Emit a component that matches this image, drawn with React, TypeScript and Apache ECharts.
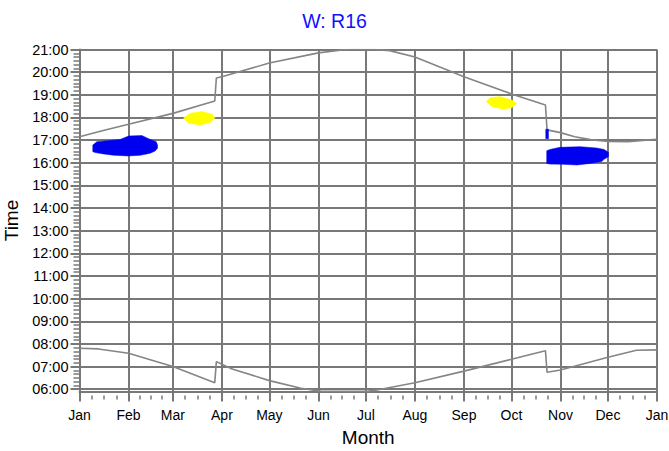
import React, { useEffect, useRef } from "react";
import * as echarts from "echarts";

// Month boundaries (day of year) and their labels
const monthStartDays = [0, 31, 59, 90, 120, 151, 181, 212, 243, 273, 304, 334, 365];
const monthLabels = ["Jan", "Feb", "Mar", "Apr", "May", "Jun", "Jul", "Aug", "Sep", "Oct", "Nov", "Dec", "Jan"];

// Hour ticks on the time axis
const hourTicks = [6, 7, 8, 9, 10, 11, 12, 13, 14, 15, 16, 17, 18, 19, 20, 21];
const hourLabels = [
  "06:00", "07:00", "08:00", "09:00", "10:00", "11:00", "12:00", "13:00",
  "14:00", "15:00", "16:00", "17:00", "18:00", "19:00", "20:00", "21:00",
];

// Sunset time through the year [day, hour]
const sunsetLine: [number, number][] = [
  [0, 17.15], [15, 17.42], [31, 17.7], [59, 18.18], [85.5, 18.73], [86.5, 19.74],
  [90, 19.8], [120, 20.4], [151, 20.85], [166, 20.98], [172, 21.0], [186, 21.0],
  [196, 20.95], [212, 20.67], [243, 19.8], [273, 19.04], [294.5, 18.55], [295.5, 17.45],
  [304, 17.33], [313, 17.15], [323, 17.02], [334, 16.94], [347, 16.93], [358, 17.0], [365, 17.04],
];

// Sunrise time through the year [day, hour]
const sunriseLine: [number, number][] = [
  [0, 7.81], [12, 7.78], [31, 7.59], [59, 7.0], [85.5, 6.29], [86.5, 7.22], [90, 7.1],
  [95.5, 6.92], [120, 6.38], [140, 6.04], [148, 5.96], [153, 5.91], [182, 5.91],
  [188, 5.97], [212, 6.29], [243, 6.8], [273, 7.32], [294.5, 7.7], [295.5, 6.75],
  [304, 6.85], [334, 7.41], [352, 7.72], [365, 7.74],
];

// Glare periods, outlined as [day, hour] polygons
const blueJanFeb: [number, number][] = [
  [8.4, 16.78], [11.0, 16.93], [17.3, 16.97], [25.7, 17.03], [31.0, 17.18], [39.4, 17.2],
  [44.7, 17.03], [48.5, 16.93], [49.3, 16.78], [49.3, 16.64], [47.8, 16.52], [44.7, 16.42],
  [38.4, 16.33], [31.0, 16.3], [21.5, 16.33], [15.2, 16.39], [9.9, 16.45], [8.4, 16.49],
];
const blueLateOct: [number, number][] = [
  [294.7, 17.48], [296.4, 17.48], [296.4, 17.06], [294.7, 17.06],
];
const blueNovDec: [number, number][] = [
  [295.3, 16.53], [297.4, 16.59], [303.7, 16.68], [316.4, 16.71], [326.9, 16.65],
  [331.5, 16.59], [334.3, 16.46], [334.3, 16.27], [331.5, 16.15], [330.1, 16.05],
  [322.7, 15.97], [314.3, 15.9], [305.8, 15.93], [297.4, 15.94], [295.3, 15.97],
];
const yellowMar: [number, number][] = [
  [65.7, 17.96], [70.0, 18.18], [77.3, 18.26], [83.6, 18.15], [85.7, 17.99],
  [82.6, 17.78], [76.3, 17.67], [68.9, 17.74],
];
const yellowSep: [number, number][] = [
  [257.0, 18.7], [259.5, 18.87], [265.8, 18.92], [273.2, 18.77], [276.4, 18.62],
  [273.2, 18.43], [267.9, 18.36], [260.6, 18.48],
];

const blueBlobs = [blueJanFeb, blueLateOct, blueNovDec];
const yellowBlobs = [yellowMar, yellowSep];

const FONT = '"Liberation Sans", Arial, sans-serif';
const GRID_GRAY = "#787878";
const LINE_GRAY = "#858585";

// Minor ticks: quarter-months and ten-minute steps
const quarterMonthTicks: number[] = [];
for (let i = 0; i < monthStartDays.length - 1; i++) {
  const a = monthStartDays[i];
  const len = monthStartDays[i + 1] - a;
  for (let k = 1; k < 4; k++) quarterMonthTicks.push(a + (len * k) / 4);
}
const tenMinuteTicks: number[] = [];
for (let h = 6; h < 21; h++) {
  for (let k = 1; k < 6; k++) tenMinuteTicks.push(h + k / 6);
}

function blobSeries(blobs: [number, number][][], color: string) {
  return {
    type: "custom",
    xAxisIndex: 0,
    yAxisIndex: 0,
    z: 4,
    data: blobs.map((b) => b[0]),
    renderItem: (params: any, api: any) => {
      const pts = blobs[params.dataIndex].map((p) => api.coord(p));
      return {
        type: "polygon",
        shape: { points: pts },
        style: { fill: color, stroke: color, lineWidth: 0.5 },
      };
    },
  };
}

export default function App() {
  const ref = useRef<HTMLDivElement>(null);

  useEffect(() => {
    if (!ref.current) return;
    const chart = echarts.init(ref.current, undefined, { renderer: "svg" });
    const axisText = { color: "#000", fontFamily: FONT };
    chart.setOption({
      animation: false,
      backgroundColor: "#fff",
      title: {
        text: "W: R16",
        left: "center",
        top: 6,
        textStyle: { color: "#1010ff", fontSize: 19.5, fontWeight: "normal", fontFamily: FONT },
      },
      grid: { left: 79.5, right: 12, top: 49.5, bottom: 59.5, containLabel: false, outerBoundsMode: "none" },
      xAxis: [
        {
          type: "value",
          min: 0,
          max: 365,
          position: "bottom",
          name: "Month",
          nameLocation: "middle",
          nameGap: 36,
          nameTextStyle: { ...axisText, fontSize: 19 },
          axisLine: { show: true, lineStyle: { color: GRID_GRAY, width: 2 } },
          axisTick: { show: true, customValues: monthStartDays, length: 10, lineStyle: { color: GRID_GRAY, width: 2 } },
          axisLabel: {
            ...axisText,
            fontSize: 14,
            margin: 16,
            customValues: monthStartDays,
            formatter: (v: number) => monthLabels[monthStartDays.indexOf(Math.round(v))] ?? "",
          },
          splitLine: { show: true, lineStyle: { color: GRID_GRAY, width: 2 } },
        },
        {
          type: "value",
          min: 0,
          max: 365,
          position: "bottom",
          offset: 4,
          axisLine: { show: false },
          axisTick: { show: true, customValues: quarterMonthTicks, length: 4, lineStyle: { color: GRID_GRAY, width: 1.5 } },
          axisLabel: { show: false },
          splitLine: { show: false },
        },
      ],
      yAxis: [
        {
          type: "value",
          min: 5.9,
          max: 21,
          position: "left",
          name: "Time",
          nameLocation: "middle",
          nameGap: 50,
          nameTextStyle: { ...axisText, fontSize: 19 },
          axisLine: { show: true, lineStyle: { color: GRID_GRAY, width: 2 } },
          axisTick: { show: true, customValues: hourTicks, length: 9, lineStyle: { color: GRID_GRAY, width: 2 } },
          axisLabel: {
            ...axisText,
            fontSize: 14.5,
            margin: 11,
            customValues: hourTicks,
            formatter: (v: number) => hourLabels[hourTicks.indexOf(Math.round(v))] ?? "",
          },
          splitLine: { show: true, lineStyle: { color: GRID_GRAY, width: 2 } },
        },
        {
          type: "value",
          min: 5.9,
          max: 21,
          position: "left",
          axisLine: { show: false },
          axisTick: { show: true, customValues: tenMinuteTicks, length: 6, lineStyle: { color: GRID_GRAY, width: 1.5 } },
          axisLabel: { show: false },
          splitLine: { show: false },
        },
      ],
      series: [
        blobSeries(blueBlobs, "#0000f0"),
        blobSeries(yellowBlobs, "#ffff00"),
        {
          type: "line",
          xAxisIndex: 0,
          yAxisIndex: 0,
          data: sunsetLine,
          symbol: "none",
          z: 3,
          lineStyle: { color: LINE_GRAY, width: 1.6 },
        },
        {
          type: "line",
          xAxisIndex: 0,
          yAxisIndex: 0,
          data: sunriseLine,
          symbol: "none",
          z: 3,
          lineStyle: { color: LINE_GRAY, width: 1.6 },
        },
      ],
    });
    return () => chart.dispose();
  }, []);

  return (
    <div
      ref={ref}
      style={{ position: "absolute", left: 0, top: 0, width: 669, height: 451, background: "#fff" }}
    />
  );
}
